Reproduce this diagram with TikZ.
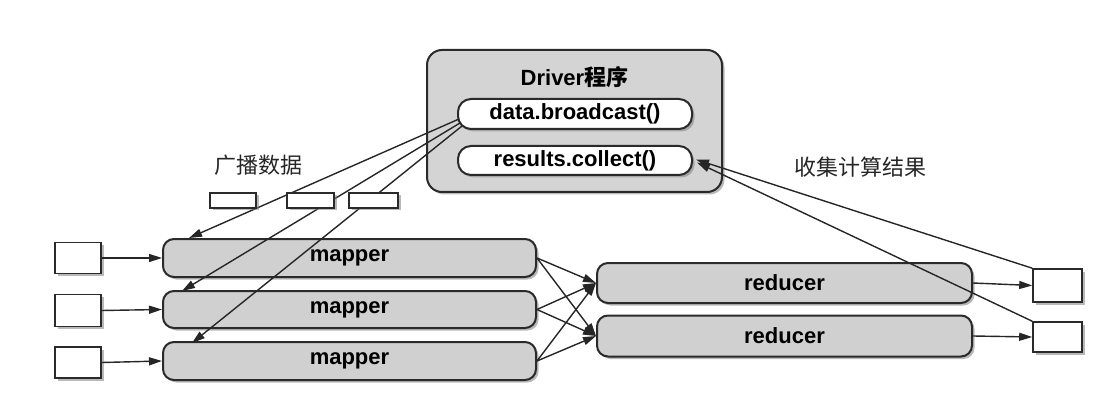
\documentclass[tikz,border=0pt]{standalone}
\usepackage{fontspec}
\setmainfont{Liberation Sans}
\newfontfamily\cjk{Noto Sans CJK SC}
\usetikzlibrary{shadows,arrows.meta}
\definecolor{pillgray}{HTML}{D0D0D0}
\definecolor{drvgray}{HTML}{D4D4D4}
\definecolor{edge}{HTML}{2A2A2A}
\tikzset{
  base/.style={draw=edge, line width=2pt, inner sep=0pt, align=center,
    font=\fontsize{22}{26}\selectfont\bfseries,
    drop shadow={shadow xshift=2.5pt, shadow yshift=-2.5pt, opacity=0.55}},
  pill/.style={base, fill=pillgray, rounded corners=11pt},
  whitepill/.style={base, fill=white, rounded corners=13pt},
  drv/.style={base, fill=drvgray, rounded corners=15pt},
  databox/.style={base, fill=white, line width=1.6pt, rounded corners=0pt},
  lbl/.style={inner sep=0pt, font=\fontsize{22}{26}\selectfont\cjk, text=black!85},
  conn/.style={draw=black!85, line width=1.4pt, -{Triangle[length=13pt,width=8pt]}},
}
\begin{document}
\begin{tikzpicture}[x=1pt,y=-1pt]
\useasboundingbox (0,0) rectangle (1120,401);
% driver
\node[drv, minimum width=295pt, minimum height=142pt] (driver) at (574.5,121) {};
\node[inner sep=0pt, font=\fontsize{22}{26}\selectfont\bfseries] (dlabel) at (574.5,77) {Driver{\cjk 程序}};
\node[whitepill, minimum width=234pt, minimum height=30pt] (bc) at (575,114) {data.broadcast()};
\node[whitepill, minimum width=234pt, minimum height=29pt] (rc) at (575,160.5) {results.collect()};
% mappers
\node[pill, minimum width=373pt, minimum height=38pt] (m1) at (349.5,258) {mapper};
\node[pill, minimum width=373pt, minimum height=37pt] (m2) at (349.5,309.5) {mapper};
\node[pill, minimum width=373pt, minimum height=38pt] (m3) at (349.5,361) {mapper};
% reducers
\node[pill, minimum width=375pt, minimum height=40pt] (r1) at (784.5,283) {reducer};
\node[pill, minimum width=375pt, minimum height=41pt] (r2) at (784.5,336) {reducer};
% inputs / outputs
\node[databox, minimum width=46pt, minimum height=31pt] (in1) at (78,258) {};
\node[databox, minimum width=46pt, minimum height=32pt] (in2) at (78,310.5) {};
\node[databox, minimum width=46pt, minimum height=31pt] (in3) at (78,362.5) {};
\node[databox, minimum width=49pt, minimum height=33pt] (out1) at (1057.5,285.5) {};
\node[databox, minimum width=49pt, minimum height=30pt] (out2) at (1057.5,337) {};
% labels
\node[lbl] (bl) at (258,165) {广播数据};
\node[lbl] (cl) at (860,167) {收集计算结果};
% connectors
\foreach \i in {1,2,3} \draw[conn] (in\i.east) -- (m\i.west);
\foreach \i in {1,2} \draw[conn] (r\i.east) -- (out\i.west);
\foreach \i in {1,2,3} \foreach \j in {1,2} \draw[conn] (m\i.east) -- (r\j.west);
\draw[conn] ([xshift=2pt,yshift=-5pt]bc.west) -- ([xshift=27pt]m1.north west);
\draw[conn] ([xshift=3pt,yshift=-9pt]bc.west) -- ([xshift=20pt,yshift=-1pt]m2.north west);
\draw[conn] ([xshift=5pt,yshift=-12pt]bc.west) -- ([xshift=30pt,yshift=-2pt]m3.north west);
\draw[conn] (out1.north west) -- ([xshift=3pt,yshift=1pt]rc.east);
\draw[conn] (out2.north west) -- ([xshift=4pt,yshift=-2pt]rc.east);
% broadcast data boxes on top
\node[databox, minimum width=46pt, minimum height=15pt] (d1) at (233,200.5) {};
\node[databox, minimum width=47pt, minimum height=15pt] (d2) at (310.5,200.5) {};
\node[databox, minimum width=49pt, minimum height=15pt] (d3) at (373.5,200.5) {};
\end{tikzpicture}
\end{document}
